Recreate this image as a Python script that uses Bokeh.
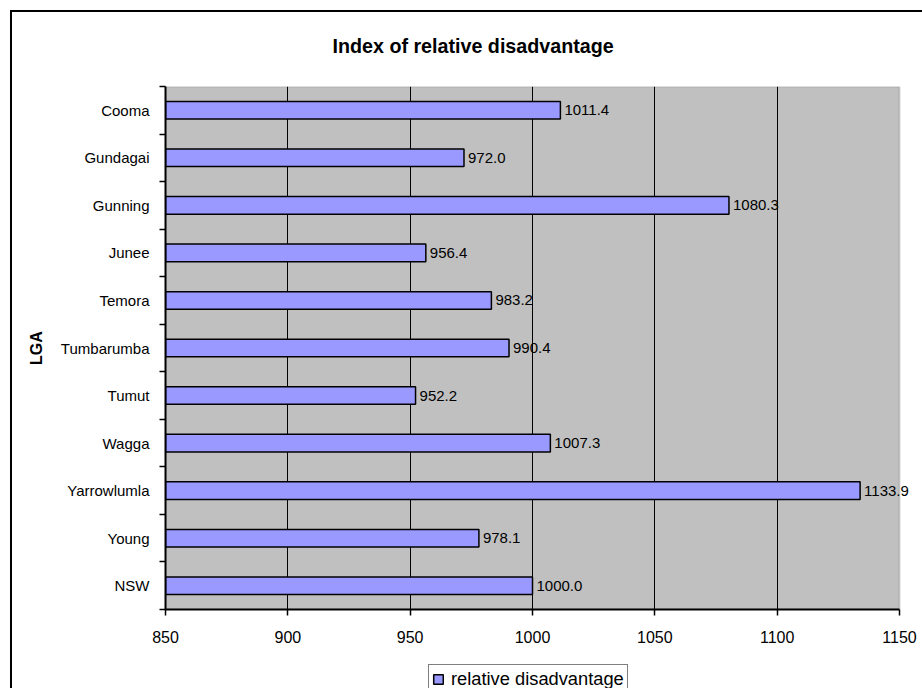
from bokeh.plotting import figure
from bokeh.layouts import column
from bokeh.models import (ColumnDataSource, FixedTicker, Range1d, LabelSet,
                          Legend, LegendItem, BoxAnnotation)
from bokeh.core.properties import value
from bokeh.embed import file_html
from bokeh.resources import INLINE

# Index of relative disadvantage by local government area
lga = ["Cooma", "Gundagai", "Gunning", "Junee", "Temora", "Tumbarumba",
       "Tumut", "Wagga", "Yarrowlumla", "Young", "NSW"]
disadvantage = [1011.4, 972.0, 1080.3, 956.4, 983.2, 990.4,
                952.2, 1007.3, 1133.9, 978.1, 1000.0]
x_ticks = [850, 900, 950, 1000, 1050, 1100, 1150]
series_name = "relative disadvantage"

FONT = "Liberation Sans"
BAR_FILL = "#9999FF"
W = 922
PLOT_L, PLOT_R = 165, 899          # grey plot area, pixels
FRAME_TOP, FRAME_BOTTOM = 86, 609
MAIN_H, LEGEND_H = 662, 26
LEGEND_LEFT = 428

x0, x1 = x_ticks[0], x_ticks[-1]
# the frame runs to the right edge so that value labels can overhang the grey area
x_end = x0 + (x1 - x0) * (W - PLOT_L) / (PLOT_R - PLOT_L)

pos = [i + 0.5 for i in range(len(lga))]
src = ColumnDataSource(dict(
    y=pos,
    left=[x0] * len(lga),
    right=disadvantage,
    txt=["%.1f" % v for v in disadvantage],
))

# chart-area border: left and top rules drawn behind the transparent canvas
border_css = {
    "background-color": "white",
    "background-image": "linear-gradient(#000, #000), linear-gradient(#000, #000)",
    "background-repeat": "no-repeat",
    "background-size": "2px 100%, 100% 2px",
    "background-position": "10px 10px, 10px 10px",
}
legend_css = {
    "background-color": "white",
    "background-image": "linear-gradient(#000, #000)",
    "background-repeat": "no-repeat",
    "background-size": "2px 100%",
    "background-position": "10px 0px",
}

p = figure(width=W, height=MAIN_H, output_backend="svg", toolbar_location=None,
           x_range=Range1d(x0, x_end), y_range=Range1d(len(lga), 0),
           min_border_left=PLOT_L, min_border_right=0,
           min_border_top=FRAME_TOP, min_border_bottom=MAIN_H - FRAME_BOTTOM)
p.styles = border_css
p.border_fill_color = None
p.background_fill_color = "white"
p.outline_line_color = None

p.title.text = "Index of relative disadvantage"
p.title.align = "left"
p.title.offset = 332 - PLOT_L
p.title.standoff = 59
p.title.text_font = FONT
p.title.text_font_size = "19.7px"
p.title.text_font_style = "bold"
p.title.text_color = "black"

# grey plot area
p.add_layout(BoxAnnotation(left=x0, right=x1, level="image",
                           fill_color="#C0C0C0", fill_alpha=1,
                           line_color="#808080", line_width=2))

bars = p.hbar(y="y", left="left", right="right", height=0.37, source=src,
              fill_color=BAR_FILL, line_color="black", line_width=1.5)

p.add_layout(LabelSet(x="right", y="y", text="txt", source=src, x_offset=4,
                      text_baseline="middle", text_font=value(FONT),
                      text_font_size="15px", text_color="black"))

# x axis
xa = p.xaxis[0]
xa.ticker = FixedTicker(ticks=x_ticks)
xa.bounds = (x0, x1)
xa.axis_line_color = "black"
xa.axis_line_width = 2
xa.major_tick_out = 6
xa.major_tick_in = 0
xa.major_tick_line_width = 1.5
xa.minor_tick_line_color = None
xa.major_label_text_font = FONT
xa.major_label_text_font_size = "16px"
xa.major_label_text_color = "black"
xa.major_label_standoff = 15

# y axis: names at category centres, ticks at category boundaries
ya = p.yaxis[0]
ya.ticker = FixedTicker(ticks=pos, minor_ticks=list(range(len(lga) + 1)))
ya.major_label_overrides = {v: n for v, n in zip(pos, lga)}
ya.axis_line_color = "black"
ya.axis_line_width = 2
ya.major_tick_line_color = None
ya.major_tick_out = 0
ya.major_tick_in = 0
ya.minor_tick_out = 6
ya.minor_tick_in = 0
ya.minor_tick_line_color = "black"
ya.minor_tick_line_width = 1.5
ya.major_label_text_font = FONT
ya.major_label_text_font_size = "15px"
ya.major_label_text_color = "black"
ya.major_label_standoff = 10
ya.axis_label = "LGA"
ya.axis_label_text_font = FONT
ya.axis_label_text_font_size = "16px"
ya.axis_label_text_font_style = "bold"
ya.axis_label_text_color = "black"
ya.axis_label_standoff = 13

p.xgrid.ticker = FixedTicker(ticks=x_ticks[1:-1])
p.xgrid.grid_line_color = "black"
p.xgrid.grid_line_width = 1
p.ygrid.grid_line_color = None

# legend strip underneath the chart; its key renderer shares the bar styling
# but is hidden, so only the legend entry shows
lg = figure(width=W, height=LEGEND_H, output_backend="svg", toolbar_location=None,
            x_range=Range1d(0, 1), y_range=Range1d(0, 1),
            x_axis_type=None, y_axis_type=None,
            min_border_left=0, min_border_right=0,
            min_border_top=0, min_border_bottom=0)
lg.styles = legend_css
lg.border_fill_color = None
lg.background_fill_color = None
lg.outline_line_color = None
lg.grid.grid_line_color = None
key = lg.hbar(y="y", left="left", right="right", height=0.37, source=src,
              fill_color=BAR_FILL, line_color="black", line_width=1.5)
key.visible = False
legend = Legend(items=[LegendItem(label=series_name, renderers=[key], index=0)],
                location=(LEGEND_LEFT - PLOT_L, -6),
                orientation="horizontal", click_policy="none",
                border_line_color="black", border_line_width=1.8,
                background_fill_color="white", background_fill_alpha=1,
                padding=3, margin=0, glyph_width=12, glyph_height=12,
                label_standoff=7, label_height=20, label_text_font=FONT,
                label_text_font_size="18.3px", label_text_color="black")
lg.add_layout(legend)

layout = column(p, lg, spacing=0)
open("out.html", "w").write(file_html(layout, INLINE))
